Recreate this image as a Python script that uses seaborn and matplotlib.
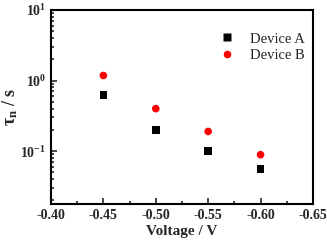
import seaborn as sns
import matplotlib.pyplot as plt
import matplotlib.ticker as mticker
import pandas as pd

voltage = [-0.45, -0.50, -0.55, -0.60]
device_a = [0.62, 0.20, 0.10, 0.056]
device_b = [1.18, 0.40, 0.19, 0.089]

rows = []
for v, a, b in zip(voltage, device_a, device_b):
    rows.append({"Voltage": v, "tau": a, "Device": "Device A"})
    rows.append({"Voltage": v, "tau": b, "Device": "Device B"})
df = pd.DataFrame(rows)

sns.set_style("ticks")
plt.rcParams['font.family'] = ['Liberation Serif', 'DejaVu Serif']
plt.rcParams['font.weight'] = 'bold'
plt.rcParams['mathtext.default'] = 'regular'
plt.rcParams['mathtext.fontset'] = 'custom'
plt.rcParams['mathtext.rm'] = 'Liberation Serif:bold'
plt.rcParams['mathtext.it'] = 'Liberation Serif:italic:bold'
plt.rcParams['mathtext.bf'] = 'Liberation Serif:bold'

fig = plt.figure(figsize=(3.27, 2.41), dpi=100)
ax = fig.add_axes([0.156, 0.1535, 0.801, 0.805])

sns.scatterplot(
    data=df, x="Voltage", y="tau", hue="Device", style="Device",
    palette={"Device A": "black", "Device B": "red"},
    markers={"Device A": "s", "Device B": "o"},
    s=30, edgecolor="none", ax=ax
)

ax.set_yscale("log")
ax.set_xlim(-0.40, -0.65)
ax.set_ylim(0.0178, 10)

ax.xaxis.set_major_locator(mticker.MultipleLocator(0.05))
ax.xaxis.set_minor_locator(mticker.MultipleLocator(0.025))
ax.xaxis.set_major_formatter(mticker.FormatStrFormatter("%.2f"))
ax.yaxis.set_major_locator(mticker.LogLocator(base=10, numticks=10))
ax.yaxis.set_minor_locator(mticker.LogLocator(base=10, subs=range(2, 10), numticks=20))
ax.yaxis.set_minor_formatter(mticker.NullFormatter())

ax.tick_params(which="both", direction="in", top=False, right=False, width=1.2)
ax.tick_params(which="major", length=4, labelsize=10)
ax.tick_params(which="minor", length=2.5)
for sp in ax.spines.values():
    sp.set_linewidth(1.5)
    sp.set_color("black")

ax.set_xlabel("Voltage / V", fontsize=11, fontweight="bold", labelpad=2)
ax.set_ylabel(r"$\tau_{n}$ / s", fontsize=13, fontweight="bold", labelpad=0)

leg = ax.legend(loc="upper right", frameon=False, handletextpad=0.6,
                bbox_to_anchor=(1.025, 0.96), borderaxespad=0.6, labelspacing=0.25,
                prop={"family": "Liberation Serif", "weight": "normal", "size": 10.5})

fig.savefig("out.png", dpi=100)
